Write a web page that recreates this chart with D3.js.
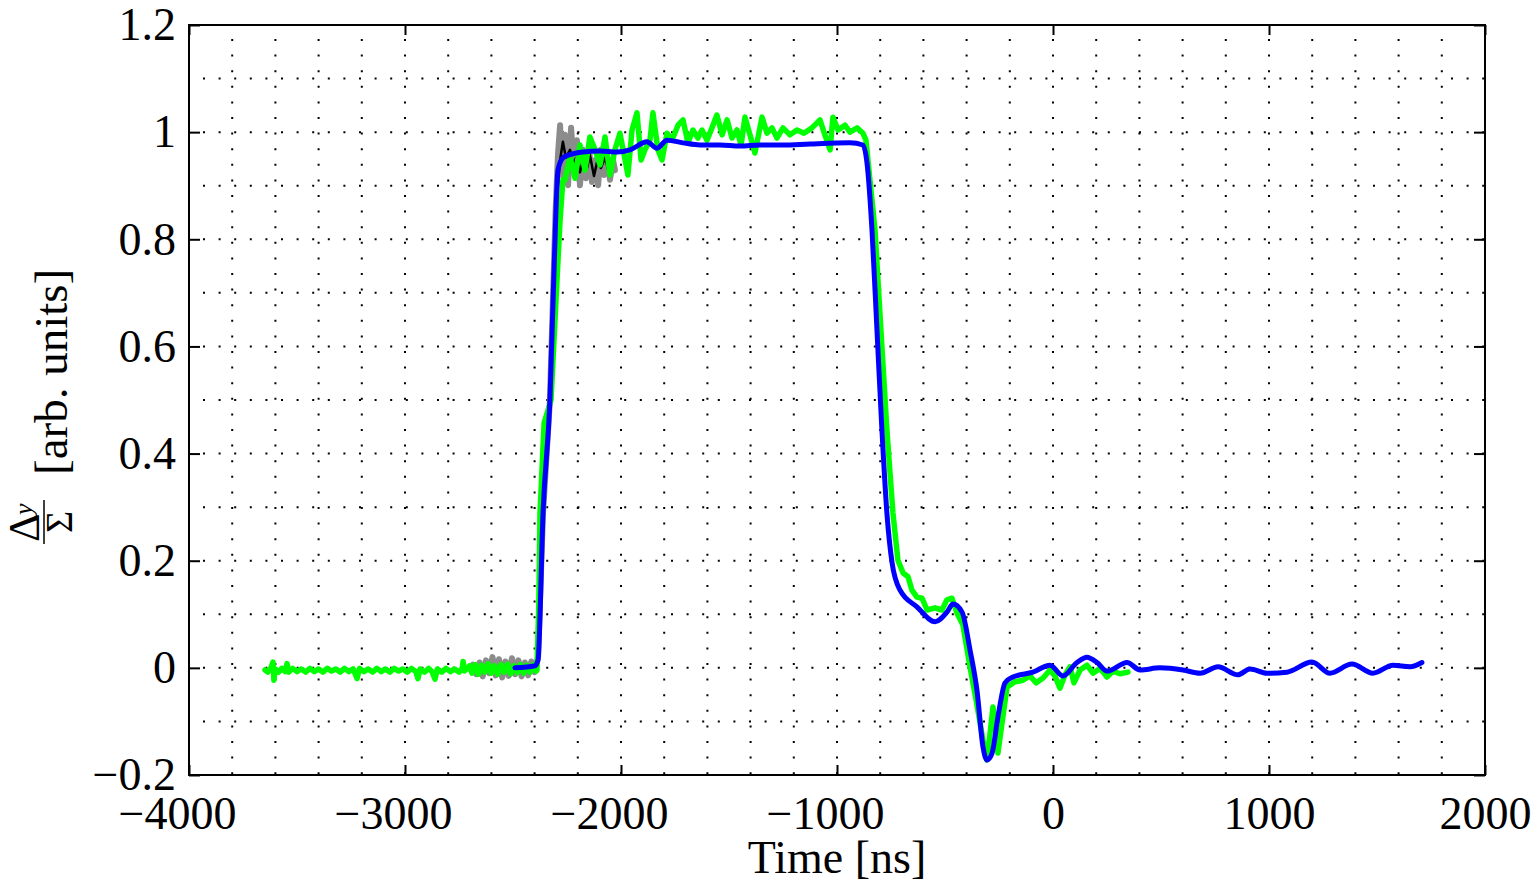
<!DOCTYPE html>
<html>
<head>
<meta charset="utf-8">
<script src="https://cdn.jsdelivr.net/npm/d3@7"></script>
<style>
  body { margin: 0; background: #fff; }
  svg { display: block; }
  text { font-family: "Liberation Serif", "Times New Roman", serif; fill: #000; }
</style>
</head>
<body>
<script>
// tick values and labels
var xTickValues = [-4000, -3000, -2000, -1000, 0, 1000, 2000];
var xTickLabels = ["\u22124000", "\u22123000", "\u22122000", "\u22121000", "0", "1000", "2000"];
var yTickValues = [-0.2, 0, 0.2, 0.4, 0.6, 0.8, 1, 1.2];
var yTickLabels = ["\u22120.2", "0", "0.2", "0.4", "0.6", "0.8", "1", "1.2"];

// gray trace (wide, noisy) [time ns, value]
var grayTrace = [
  [-2700,-0.002],[-2685,0.006],[-2670,-0.012],[-2655,0.010],[-2640,-0.016],[-2625,0.014],
  [-2610,-0.010],[-2595,0.020],[-2580,-0.014],[-2565,0.016],[-2550,-0.018],[-2535,0.012],
  [-2520,-0.015],[-2505,0.018],[-2490,-0.012],[-2475,0.014],[-2460,-0.016],[-2445,0.010],
  [-2430,-0.014],[-2415,0.012],[-2400,-0.008],[-2392,0.004],
  [-2384,0.02],[-2361,0.289],[-2329,0.50],[-2303,0.85],
  [-2292,0.957],[-2282,1.013],[-2273,0.920],[-2259,0.995],[-2245,0.901],[-2231,1.008],
  [-2218,0.929],[-2204,0.985],[-2190,0.901],[-2176,0.967],[-2162,0.914],[-2148,0.970],
  [-2134,0.907],[-2120,0.948],[-2106,0.901],[-2093,0.967],[-2079,0.920],[-2065,0.957],
  [-2051,0.911],[-2037,0.948],[-2028,0.929]
];

// black trace (thin)
var blackTrace = [
  [-2420,-0.002],[-2395,0.0],[-2384,0.015],[-2361,0.289],[-2329,0.50],[-2303,0.85],
  [-2282,0.948],[-2269,0.982],[-2255,0.952],[-2236,0.967],[-2222,0.939],[-2208,0.952],
  [-2190,0.925],[-2176,0.948],[-2157,0.933],[-2144,0.957],[-2125,0.918],[-2111,0.944],
  [-2093,0.933],[-2074,0.952],[-2056,0.925],[-2037,0.952]
];

// green trace
var greenTrace = [
  [-3648,-0.004],[-3635,-0.008],[-3622,-0.001],[-3611,0.011],[-3607,-0.023],[-3600,-0.002],
  [-3585,-0.008],[-3570,-0.001],[-3555,-0.007],[-3546,0.008],[-3538,-0.008],[-3520,-0.001],
  [-3500,-0.007],[-3480,-0.002],[-3460,-0.008],[-3440,-0.001],[-3420,-0.007],[-3400,-0.002],
  [-3380,-0.008],[-3360,-0.001],[-3340,-0.006],[-3320,-0.002],[-3300,-0.008],[-3280,-0.001],
  [-3260,-0.007],[-3240,-0.002],[-3222,-0.020],[-3210,-0.001],[-3190,-0.007],[-3170,-0.002],
  [-3150,-0.008],[-3130,-0.001],[-3110,-0.007],[-3090,-0.002],[-3070,-0.008],[-3050,-0.001],
  [-3030,-0.006],[-3010,-0.002],[-2990,-0.008],[-2970,-0.001],[-2950,-0.007],[-2940,-0.020],
  [-2930,-0.002],[-2910,-0.008],[-2890,-0.001],[-2875,-0.007],[-2861,-0.021],[-2850,-0.002],
  [-2830,-0.008],[-2810,-0.001],[-2790,-0.007],[-2770,-0.002],[-2750,-0.008],[-2735,-0.001],
  [-2731,0.012],[-2725,-0.006],[-2700,0.004],[-2690,-0.010],[-2675,0.006],
  [-2660,-0.012],[-2645,0.005],[-2630,-0.008],[-2615,0.008],[-2600,-0.010],[-2585,0.004],
  [-2570,-0.012],[-2555,0.006],[-2540,-0.008],[-2525,0.007],[-2510,-0.011],[-2495,0.004],
  [-2480,-0.009],[-2465,0.006],[-2450,-0.010],[-2435,0.005],[-2420,-0.008],[-2405,0.006],
  [-2392,-0.006],[-2389,-0.004],[-2380,0.127],[-2375,0.289],[-2356,0.457],[-2324,0.500],
  [-2301,0.687],[-2282,0.836],[-2269,0.911],
  [-2259,0.911],[-2236,0.954],[-2213,0.914],[-2190,0.976],[-2167,0.929],[-2144,0.991],
  [-2120,0.967],[-2097,0.939],[-2074,0.991],[-2051,0.920],[-2028,0.967],[-2005,0.998],
  [-1981,0.948],[-1968,0.920],[-1949,1.004],[-1926,1.036],[-1907,0.948],[-1889,0.967],
  [-1866,0.985],[-1852,1.036],[-1829,0.967],[-1810,0.948],[-1787,0.998],[-1764,0.985],
  [-1736,1.013],[-1713,1.023],[-1690,0.980],[-1667,1.004],[-1644,0.989],[-1625,1.004],
  [-1602,0.985],[-1579,1.008],[-1556,1.032],[-1532,0.995],[-1509,1.023],[-1486,0.989],
  [-1463,1.004],[-1444,0.976],[-1426,1.028],[-1403,0.995],[-1380,0.961],[-1347,1.028],
  [-1324,0.998],[-1301,1.008],[-1278,0.989],[-1250,1.008],[-1218,0.995],[-1185,1.004],
  [-1153,0.998],[-1116,1.008],[-1079,1.023],[-1056,0.995],[-1032,0.967],[-1019,1.028],
  [-995,1.004],[-963,1.013],[-940,1.000],[-907,1.008],[-880,0.998],[-866,0.985],
  [-824,0.817],[-792,0.599],[-769,0.444],[-741,0.289],[-718,0.201],[-694,0.177],
  [-671,0.170],[-653,0.145],[-630,0.132],[-606,0.130],[-583,0.108],[-546,0.112],
  [-514,0.108],[-491,0.127],[-468,0.130],[-444,0.102],[-417,0.080],[-384,0.001],
  [-356,-0.060],[-324,-0.135],[-306,-0.172],[-292,-0.125],[-278,-0.073],[-264,-0.116],
  [-255,-0.159],[-236,-0.103],[-213,-0.036],[-176,-0.026],[-139,-0.023],[-106,-0.015],
  [-79,-0.028],[-46,-0.019],[-14,-0.004],[9,-0.015],[32,-0.038],[56,-0.013],[79,0.002],
  [97,-0.028],[125,-0.004],[157,0.005],[185,-0.010],[218,-0.001],[250,-0.017],[278,-0.006],
  [310,-0.011],[347,-0.008]
];

// blue trace
var blueTrace = [
  [-2491,0.000],[-2398,0.004],[-2384,0.015],[-2361,0.289],[-2329,0.500],[-2301,0.855],
  [-2292,0.929],[-2269,0.952],[-2250,0.956],[-2176,0.963],[-2097,0.965],[-2019,0.963],
  [-1958,0.967],[-1880,0.982],[-1833,0.970],[-1787,0.985],[-1713,0.980],[-1634,0.976],
  [-1542,0.976],[-1449,0.974],[-1356,0.976],[-1250,0.976],[-1125,0.978],[-940,0.980],
  [-880,0.976],[-861,0.942],[-838,0.817],[-815,0.631],[-792,0.444],[-769,0.289],
  [-745,0.196],[-708,0.145],[-630,0.114],[-546,0.086],[-491,0.104],[-463,0.119],
  [-421,0.104],[-384,0.033],[-352,-0.042],[-324,-0.148],[-306,-0.172],[-282,-0.159],
  [-255,-0.092],[-222,-0.028],[-185,-0.017],[-93,-0.008],[-14,0.005],[46,-0.015],
  [111,0.010],[157,0.020],[204,0.010],[250,-0.006],[343,0.010],[403,-0.004],[495,0.000],
  [602,-0.004],[681,-0.010],[764,0.002],[856,-0.013],[912,-0.002],[991,-0.010],
  [1083,-0.008],[1199,0.011],[1282,-0.010],[1384,0.007],[1481,-0.010],[1574,0.005],
  [1653,0.002],[1708,0.010]
];

var W = 1537, H = 886;
var marginLeft = 189, marginTop = 25, plotW = 1296, plotH = 750;

var svg = d3.select("body").append("svg").attr("width", W).attr("height", H);
var g = svg.append("g").attr("transform", "translate(" + marginLeft + "," + marginTop + ")");

var x = d3.scaleLinear().domain([-4000, 2000]).range([0, plotW]);
var y = d3.scaleLinear().domain([-0.2, 1.2]).range([plotH, 0]);

// dotted grid (major + minor)
var xGrid = d3.range(-3800, 2000, 200);
var yGrid = d3.range(-1, 12).map(function (d) { return d / 10; });
g.append("g").selectAll("line").data(xGrid).enter().append("line")
  .attr("x1", function (d) { return x(d); }).attr("x2", function (d) { return x(d); })
  .attr("y1", 0).attr("y2", plotH)
  .attr("stroke", "#000").attr("stroke-width", 2)
  .attr("stroke-dasharray", "2 13.6").attr("stroke-dashoffset", -14);
g.append("g").selectAll("line").data(yGrid).enter().append("line")
  .attr("x1", 0).attr("x2", plotW)
  .attr("y1", function (d) { return y(d); }).attr("y2", function (d) { return y(d); })
  .attr("stroke", "#000").attr("stroke-width", 2)
  .attr("stroke-dasharray", "2 13.6").attr("stroke-dashoffset", -14);

// traces
var line = d3.line().x(function (d) { return x(d[0]); }).y(function (d) { return y(d[1]); });
var smooth = d3.line().curve(d3.curveMonotoneX)
  .x(function (d) { return x(d[0]); }).y(function (d) { return y(d[1]); });
var traces = [
  { data: grayTrace, color: "#8c8c8c", width: 6, gen: line },
  { data: blackTrace, color: "#000000", width: 2.5, gen: line },
  { data: greenTrace, color: "#00ff00", width: 5.5, gen: line },
  { data: blueTrace, color: "#0000ff", width: 5, gen: smooth }
];
g.append("g").selectAll("path").data(traces).enter().append("path")
  .attr("d", function (t) { return t.gen(t.data); })
  .attr("fill", "none")
  .attr("stroke", function (t) { return t.color; })
  .attr("stroke-width", function (t) { return t.width; })
  .attr("stroke-linejoin", "round").attr("stroke-linecap", "round");

// axes, ticks inward on all four sides
function styleAxis(sel) {
  sel.selectAll(".domain").remove();
  sel.selectAll(".tick line").attr("stroke", "#000").attr("stroke-width", 2);
  sel.selectAll(".tick text").style("font-size", "46px").attr("fill", "#000");
}
g.append("g").attr("transform", "translate(0," + plotH + ")")
  .call(d3.axisBottom(x).tickValues(xTickValues).tickSize(-10).tickPadding(21)
    .tickFormat(function (d, i) { return xTickLabels[i]; }))
  .call(styleAxis)
  .selectAll(".tick text").attr("dx", function (d) { return d < 0 ? -12 : 0; });
g.append("g")
  .call(d3.axisTop(x).tickValues(xTickValues).tickSize(-10).tickFormat(""))
  .call(styleAxis);
g.append("g")
  .call(d3.axisLeft(y).tickValues(yTickValues).tickSize(-11).tickPadding(13)
    .tickFormat(function (d, i) { return yTickLabels[i]; }))
  .call(styleAxis);
g.append("g").attr("transform", "translate(" + plotW + ",0)")
  .call(d3.axisRight(y).tickValues(yTickValues).tickSize(-11).tickFormat(""))
  .call(styleAxis);

g.append("rect").attr("width", plotW).attr("height", plotH)
  .attr("fill", "none").attr("stroke", "#000").attr("stroke-width", 2);

// axis titles
svg.append("text").attr("x", marginLeft + plotW / 2).attr("y", 873)
  .attr("text-anchor", "middle").style("font-size", "46px").text("Time [ns]");

var yl = svg.append("g").attr("transform", "translate(45,400) rotate(-90)");
yl.append("text").attr("x", -75).attr("y", 22).style("font-size", "47px").text("[arb. units]");
yl.append("text").attr("x", -142).attr("y", -6).style("font-size", "44px").text("\u0394");
yl.append("text").attr("x", -115).attr("y", -13).style("font-size", "26px")
  .style("font-style", "italic").text("y");
yl.append("line").attr("x1", -144).attr("x2", -100).attr("y1", -1).attr("y2", -1)
  .attr("stroke", "#000").attr("stroke-width", 1.5);
yl.append("text").attr("x", -122).attr("y", 27).attr("text-anchor", "middle")
  .style("font-size", "38px").text("\u03a3");
</script>
</body>
</html>
